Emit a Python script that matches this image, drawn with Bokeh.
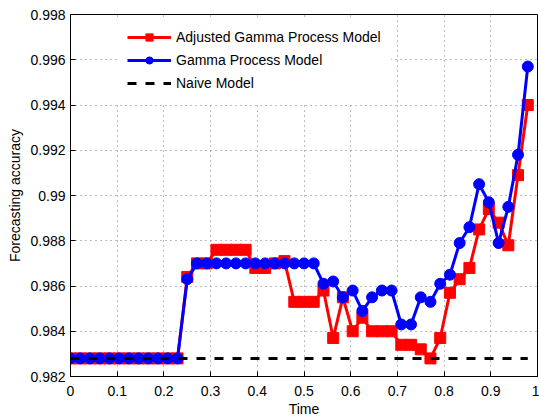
from bokeh.plotting import figure
from bokeh.models import FixedTicker, Range1d, Legend, LegendItem
from bokeh.embed import file_html
from bokeh.resources import INLINE

# Time grid (48 evaluation points)
time = [0.0, 0.0208, 0.0417, 0.0625, 0.0833, 0.1042, 0.125, 0.1458, 0.1667, 0.1875,
        0.2083, 0.2292, 0.25, 0.2708, 0.2917, 0.3125, 0.3333, 0.3542, 0.375, 0.3958,
        0.4167, 0.4375, 0.4583, 0.4792, 0.5, 0.5208, 0.5417, 0.5625, 0.5833, 0.6042,
        0.625, 0.6458, 0.6667, 0.6875, 0.7083, 0.7292, 0.75, 0.7708, 0.7917, 0.8125,
        0.8333, 0.8542, 0.875, 0.8958, 0.9167, 0.9375, 0.9583, 0.9792]

adjusted_gamma = [0.9828, 0.9828, 0.9828, 0.9828, 0.9828, 0.9828, 0.9828, 0.9828, 0.9828, 0.9828,
                  0.9828, 0.9828, 0.9864, 0.9870, 0.9870, 0.9876, 0.9876, 0.9876, 0.9876, 0.9868,
                  0.9868, 0.9870, 0.9871, 0.9853, 0.9853, 0.9853, 0.9858, 0.9837, 0.9855, 0.9840,
                  0.9846, 0.9840, 0.9840, 0.9840, 0.9834, 0.9834, 0.9832, 0.9828, 0.9837, 0.9857,
                  0.9863, 0.9868, 0.9885, 0.9894, 0.9888, 0.9878, 0.9909, 0.9940]

gamma = [0.9828, 0.9828, 0.9828, 0.9828, 0.9828, 0.9828, 0.9828, 0.9828, 0.9828, 0.9828,
         0.9828, 0.9828, 0.9863, 0.9870, 0.9870, 0.9870, 0.9870, 0.9870, 0.9870, 0.9870,
         0.9870, 0.9870, 0.9870, 0.9870, 0.9870, 0.9870, 0.9861, 0.9862, 0.9855, 0.9858,
         0.9849, 0.9855, 0.9858, 0.9858, 0.9843, 0.9843, 0.9855, 0.9853, 0.9861, 0.9865,
         0.9879, 0.9886, 0.9905, 0.9897, 0.9879, 0.9895, 0.9918, 0.9957]

naive = [0.9828] * len(time)

x_ticks = [0.0, 0.1, 0.2, 0.3, 0.4, 0.5, 0.6, 0.7, 0.8, 0.9, 1.0]
x_tick_labels = ["0", "0.1", "0.2", "0.3", "0.4", "0.5", "0.6", "0.7", "0.8", "0.9", "1"]
y_ticks = [0.982, 0.984, 0.986, 0.988, 0.99, 0.992, 0.994, 0.996, 0.998]
y_tick_labels = ["0.982", "0.984", "0.986", "0.988", "0.99", "0.992", "0.994", "0.996", "0.998"]

FONT = "Liberation Sans"

p = figure(width=539, height=419, output_backend="svg", toolbar_location=None,
           x_range=Range1d(0, 1), y_range=Range1d(0.982, 0.998),
           min_border_left=70, min_border_right=2, min_border_top=14, min_border_bottom=42)
p.background_fill_color = "white"
p.border_fill_color = "white"
p.outline_line_color = "black"
p.outline_line_width = 1

# Axes: inward ticks, boxed frame
for ax, ticks, labels in ((p.xaxis[0], x_ticks, x_tick_labels), (p.yaxis[0], y_ticks, y_tick_labels)):
    ax.ticker = FixedTicker(ticks=ticks)
    ax.major_label_overrides = dict(zip(ticks, labels))
    ax.minor_tick_line_color = None
    ax.major_tick_in = 5
    ax.major_tick_out = 0
    ax.axis_line_color = "black"
    ax.major_tick_line_color = "black"
    ax.major_label_text_font = FONT
    ax.major_label_text_font_size = "14px"
    ax.major_label_text_color = "black"
    ax.axis_label_text_font = FONT
    ax.axis_label_text_font_size = "14px"
    ax.axis_label_text_font_style = "normal"
    ax.axis_label_text_color = "black"

p.xaxis.axis_label = "Time"
p.yaxis.axis_label = "Forecasting accuracy"
p.xaxis.major_label_standoff = 9
p.xaxis.axis_label_standoff = 2
p.yaxis.major_label_standoff = 5
p.yaxis.axis_label_standoff = 4

# Grid: dotted lines at every tick
p.xgrid.ticker = FixedTicker(ticks=x_ticks)
p.ygrid.ticker = FixedTicker(ticks=y_ticks)
for g in (p.xgrid, p.ygrid):
    g.grid_line_color = "#7a7a7a"
    g.grid_line_dash = "1 4"
    g.grid_line_width = 1

# Series
r_line = p.line(time, adjusted_gamma, line_color="red", line_width=3)
r_mark = p.scatter(time, adjusted_gamma, marker="square", size=11, fill_color="red", line_color="red")
b_line = p.line(time, gamma, line_color="blue", line_width=3)
b_mark = p.scatter(time, gamma, marker="circle", size=11, fill_color="blue", line_color="blue")
n_line = p.line(time, naive, line_color="black", line_width=3, line_dash="9 9")

legend = Legend(items=[
    LegendItem(label="Adjusted Gamma Process Model", renderers=[r_line, r_mark]),
    LegendItem(label="Gamma Process Model", renderers=[b_line, b_mark]),
    LegendItem(label="Naive Model", renderers=[n_line]),
], location=(47, 274))
legend.label_text_font = FONT
legend.label_text_font_size = "14px"
legend.label_text_color = "black"
legend.glyph_width = 44
legend.glyph_height = 18
legend.label_height = 18
legend.spacing = 5
legend.padding = 10
legend.label_standoff = 5
legend.border_line_alpha = 0
legend.background_fill_color = "white"
legend.background_fill_alpha = 1
p.add_layout(legend, "center")

open("out.html", "w").write(file_html(p, INLINE))
